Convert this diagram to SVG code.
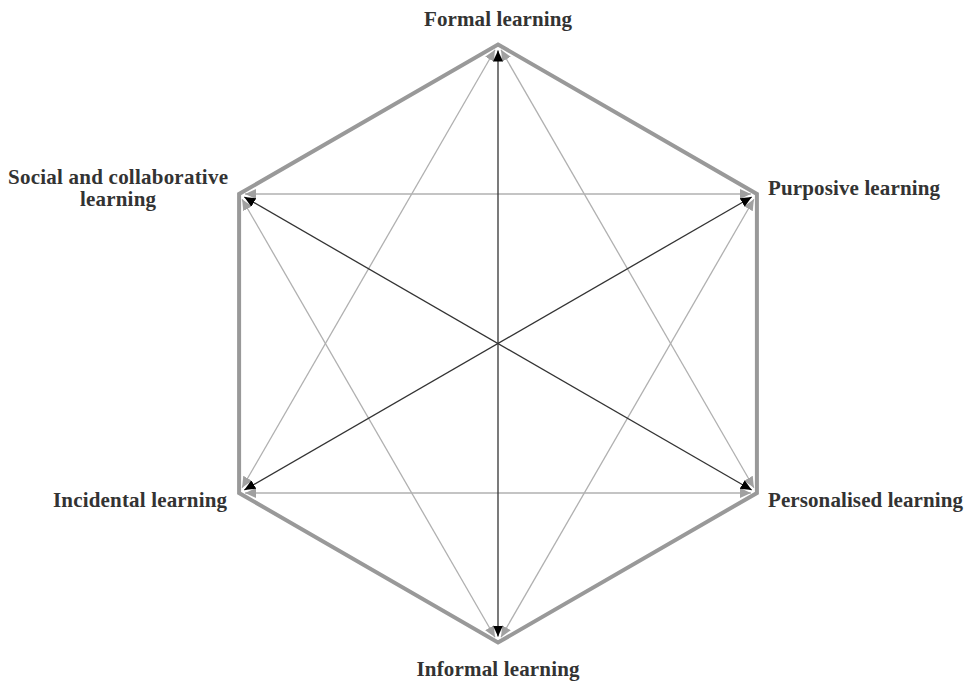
<svg xmlns="http://www.w3.org/2000/svg" width="971" height="682" viewBox="0 0 971 682">
<style>
.lbl{font-family:"Liberation Serif","Times New Roman",serif;font-weight:bold;font-size:21px;fill:#333}
.hex{fill:none;stroke:#999;stroke-width:4;stroke-linejoin:miter}
.blk{stroke:#333;stroke-width:1.3;fill:none;marker-start:url(#ab);marker-end:url(#ab)}
.gry{stroke:#b0b0b0;stroke-width:1.3;fill:none;marker-start:url(#ag);marker-end:url(#ag)}
</style>
<defs>
<marker id="ab" markerUnits="userSpaceOnUse" markerWidth="12" markerHeight="12" refX="11" refY="5" orient="auto-start-reverse"><path d="M0,0 L11,5 L0,10 z" fill="#000"/></marker>
<marker id="ag" markerUnits="userSpaceOnUse" markerWidth="12" markerHeight="12" refX="11" refY="5" orient="auto-start-reverse"><path d="M0,0 L11,5 L0,10 z" fill="#a0a0a0"/></marker>
</defs>
<rect width="971" height="682" fill="#fff"/>
<g id="connectors">
<polygon class="hex" points="498,44.5 756.9,194 756.9,493 498,642.5 239.1,493 239.1,194"/>
<line class="gry" x1="501" y1="49.7" x2="753.9" y2="487.8"/>
<line class="gry" x1="495" y1="49.7" x2="242.1" y2="487.8"/>
<line class="gry" x1="245.1" y1="493" x2="750.9" y2="493"/>
<line class="gry" x1="245.1" y1="194" x2="750.9" y2="194"/>
<line class="gry" x1="242.1" y1="199.2" x2="495" y2="637.3"/>
<line class="gry" x1="753.9" y1="199.2" x2="501" y2="637.3"/>
<line class="blk" x1="498" y1="50.5" x2="498" y2="636.5"/>
<line class="blk" x1="751.7" y1="197" x2="244.3" y2="490"/>
<line class="blk" x1="244.3" y1="197" x2="751.7" y2="490"/>
</g>
<g id="formal"><text class="lbl" x="498" y="26" text-anchor="middle" textLength="148">Formal learning</text></g>
<g id="purposive"><text class="lbl" x="768" y="195" textLength="172">Purposive learning</text></g>
<g id="personalised"><text class="lbl" x="768" y="507" textLength="195">Personalised learning</text></g>
<g id="informal"><text class="lbl" x="498" y="676" text-anchor="middle" textLength="163">Informal learning</text></g>
<g id="incidental"><text class="lbl" x="227" y="507" text-anchor="end" textLength="174">Incidental learning</text></g>
<g id="social"><text class="lbl" x="118" y="184" text-anchor="middle" textLength="220">Social and collaborative</text><text class="lbl" x="118" y="206" text-anchor="middle" textLength="76">learning</text></g>
</svg>
